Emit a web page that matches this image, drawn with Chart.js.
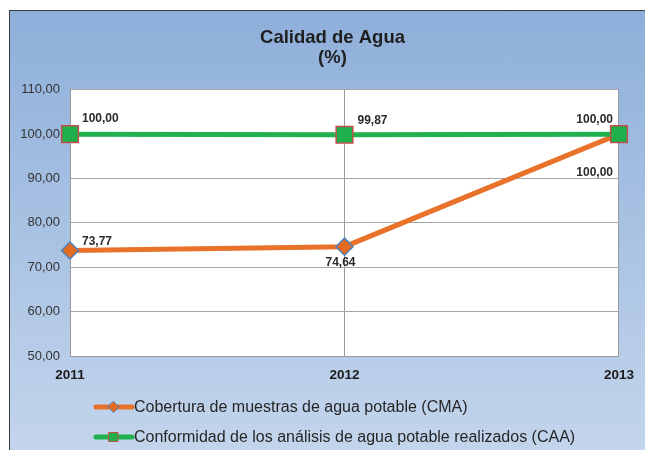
<!DOCTYPE html>
<html>
<head>
<meta charset="utf-8">
<script src="https://cdn.jsdelivr.net/npm/chart.js@4"></script>
<style>
  body { margin: 0; background: #fff; }
  #frame {
    position: absolute; left: 9px; top: 10px;
    width: 636px; height: 440px;
    border-left: 1px solid #3a3a3a; border-top: 1px solid #3a3a3a;
    background: linear-gradient(#8eafda, #c3d5ec);
  }
  canvas { display: block; }
</style>
</head>
<body>
<div id="frame"><canvas id="chart" width="635" height="439"></canvas></div>
<script>
// data
const years = ["2011", "2012", "2013"];
const cma = [73.77, 74.64, 100.0];
const caa = [100.0, 99.87, 100.0];
const yTicks = [50, 60, 70, 80, 90, 100, 110];
const titleLines = ["Calidad de Agua", "(%)"];
const cmaLabel = "Cobertura de muestras de agua potable (CMA)";
const caaLabel = "Conformidad de los análisis de agua potable realizados (CAA)";

// label placement per point: [dx, dy, align]
const cmaLabelPos = [[12, -9, "left"], [-4, 16, "center"], [-6, 39, "right"]];
const caaLabelPos = [[12, -15, "left"], [13, -14, "left"], [-6, -14, "right"]];

const fmt = (v) => v.toFixed(2).replace(".", ",");
const FONT = "'Liberation Sans', Arial, sans-serif";

const plotBg = {
  id: "plotBg",
  beforeDraw(chart) {
    const { ctx, chartArea: a } = chart;
    ctx.save();
    ctx.fillStyle = "#ffffff";
    ctx.fillRect(a.left, a.top, a.right - a.left, a.bottom - a.top);
    ctx.restore();
  },
};

// value labels next to the points
const valueLabels = {
  id: "valueLabels",
  afterDatasetsDraw(chart) {
    const ctx = chart.ctx;
    ctx.save();
    ctx.font = "bold 12px " + FONT;
    ctx.fillStyle = "#2b2b2b";
    ctx.textBaseline = "middle";
    chart.data.datasets.forEach((ds, i) => {
      const meta = chart.getDatasetMeta(i);
      meta.data.forEach((pt, j) => {
        const [dx, dy, align] = ds.labelPos[j];
        ctx.textAlign = align;
        ctx.fillText(fmt(ds.data[j]), pt.x + dx, pt.y + dy);
      });
    });
    ctx.restore();
  },
};

// legend: line with marker, then text
const lineLegend = {
  id: "lineLegend",
  afterDraw(chart) {
    const ctx = chart.ctx;
    ctx.save();
    chart.data.datasets.forEach((ds, i) => {
      const y = 396 + i * 30;
      const cx = 103.5;
      ctx.strokeStyle = ds.borderColor;
      ctx.lineWidth = 5;
      ctx.lineCap = "round";
      ctx.beginPath();
      ctx.moveTo(86, y);
      ctx.lineTo(122, y);
      ctx.stroke();
      ctx.fillStyle = ds.pointBackgroundColor;
      ctx.strokeStyle = ds.pointBorderColor;
      ctx.lineWidth = 1;
      ctx.beginPath();
      if (ds.pointStyle === "rectRot") {
        ctx.moveTo(cx, y - 5.5);
        ctx.lineTo(cx + 5.5, y);
        ctx.lineTo(cx, y + 5.5);
        ctx.lineTo(cx - 5.5, y);
        ctx.closePath();
      } else {
        ctx.rect(cx - 4.5, y - 4.5, 9, 9);
      }
      ctx.fill();
      ctx.stroke();
      ctx.fillStyle = "#262626";
      ctx.font = "16px " + FONT;
      ctx.textAlign = "left";
      ctx.textBaseline = "middle";
      ctx.fillText(ds.label, 124, y + 1);
    });
    ctx.restore();
  },
};

const config = {
  type: "line",
  data: {
    labels: years,
    datasets: [
      {
        label: cmaLabel,
        data: cma,
        labelPos: cmaLabelPos,
        borderColor: "#e8722a",
        borderWidth: 5,
        pointStyle: "rectRot",
        pointRadius: 8.5,
        pointBackgroundColor: "#e46c22",
        pointBorderColor: "#4f81bd",
        pointBorderWidth: 1.5,
        clip: false,
        order: 1,
      },
      {
        label: caaLabel,
        data: caa,
        labelPos: caaLabelPos,
        borderColor: "#21b14d",
        borderWidth: 5,
        pointStyle: "rect",
        pointRadius: 11.8,
        pointBackgroundColor: "#1fb04c",
        pointBorderColor: "#c0504d",
        pointBorderWidth: 1.5,
        clip: false,
        order: 0,
      },
    ],
  },
  options: {
    responsive: false,
    animation: false,
    layout: { padding: { left: 10, right: 0, top: 0, bottom: 64 } },
    plugins: {
      legend: { display: false },
      tooltip: { enabled: false },
      title: {
        display: true,
        text: titleLines,
        color: "#1f1f1f",
        font: { family: FONT, size: 18.5, weight: "bold", lineHeight: 1.13 },
        padding: { top: 16, bottom: 21 },
      },
    },
    scales: {
      x: {
        offset: false,
        grid: { color: "#9a9a9a", lineWidth: 1, drawTicks: false },
        border: { color: "#9a9a9a" },
        ticks: {
          color: "#1a1a1a",
          padding: 11,
          font: { family: FONT, size: 13.5, weight: "bold" },
        },
        afterFit(scale) { scale.height = 30; },
      },
      y: {
        min: yTicks[0],
        max: yTicks[yTicks.length - 1],
        afterBuildTicks(scale) { scale.ticks = yTicks.map((v) => ({ value: v })); },
        grid: { color: "#a6a6a6", lineWidth: 1, drawTicks: false },
        border: { color: "#9a9a9a" },
        ticks: {
          color: "#333333",
          padding: 10,
          font: { family: FONT, size: 13 },
          callback: (v) => fmt(v),
        },
        afterFit(scale) { scale.width = 50; },
      },
      // empty right-hand spacer so the plot ends where the reference does
      yRight: {
        position: "right",
        min: yTicks[0],
        max: yTicks[yTicks.length - 1],
        grid: { display: false, drawTicks: false },
        border: { display: false },
        ticks: { display: false },
        afterFit(scale) { scale.width = 26; },
      },
    },
  },
  plugins: [plotBg, valueLabels, lineLegend],
};

new Chart(document.getElementById("chart").getContext("2d"), config);
</script>
</body>
</html>
